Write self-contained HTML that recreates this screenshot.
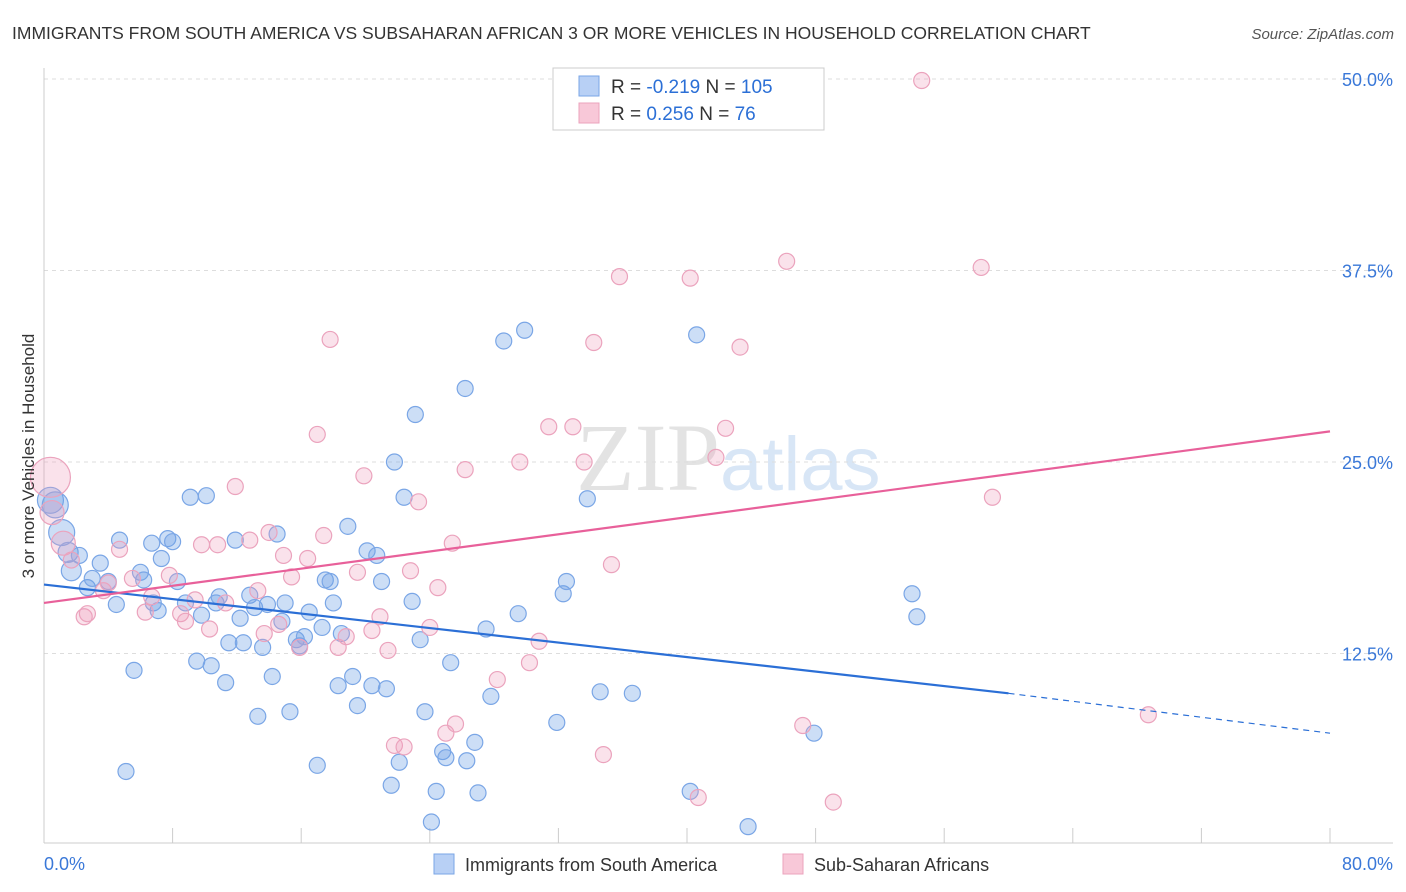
<!DOCTYPE html>
<html><head><meta charset="utf-8"><style>
body{margin:0;background:#fff;font-family:"Liberation Sans",sans-serif;}
svg{display:block}
</style></head><body>
<svg width="1406" height="892" id="chart" xmlns="http://www.w3.org/2000/svg">
<text x="12" y="39" font-size="17.5" fill="#333">IMMIGRANTS FROM SOUTH AMERICA VS SUBSAHARAN AFRICAN 3 OR MORE VEHICLES IN HOUSEHOLD CORRELATION CHART</text>
<text x="1394" y="39" font-size="15" fill="#555" text-anchor="end" font-style="italic">Source: ZipAtlas.com</text>
<text x="720" y="490" font-size="96" fill="#ddd" text-anchor="end" font-family="Liberation Serif" opacity="0.8">ZIP</text>
<text x="720" y="490" font-size="76" fill="#cfe0f5" opacity="0.8">atlas</text>
<g id="grid"></g>
<g id="axes"></g>
<g id="pts"></g>
<g id="lines"></g>
<text transform="translate(34,456) rotate(-90)" font-size="17" fill="#333" text-anchor="middle">3 or more Vehicles in Household</text>
<g>
<rect x="553" y="68" width="271" height="62" fill="#fff" stroke="#ccc"/>
<rect x="579" y="76" width="20" height="20" fill="#b8d0f5" stroke="#7aa6e6"/>
<rect x="579" y="103" width="20" height="20" fill="#f8c8d8" stroke="#eba3bd"/>
<text x="611" y="93" font-size="19" fill="#333">R = <tspan fill="#2b6fd6">-0.219</tspan>   N = <tspan fill="#2b6fd6">105</tspan></text>
<text x="611" y="120" font-size="19" fill="#333">R =  <tspan fill="#2b6fd6">0.256</tspan>   N =   <tspan fill="#2b6fd6">76</tspan></text>
</g>
<g>
<rect x="434" y="854" width="20" height="20" fill="#b8d0f5" stroke="#7aa6e6"/>
<text x="465" y="871" font-size="18" fill="#333">Immigrants from South America</text>
<rect x="783" y="854" width="20" height="20" fill="#f8c8d8" stroke="#eba3bd"/>
<text x="814" y="871" font-size="18" fill="#333">Sub-Saharan Africans</text>
</g>
</svg>
<script>
const yTicks=[12.5,25,37.5,50];
const yTickLabels=["12.5%","25.0%","37.5%","50.0%"];
const xTickVals=[0,8,16,24,32,40,48,56,64,72,80];
const blueX=[0.4,0.7,1.1,1.5,1.7,2.2,2.7,3.0,3.5,4.0,4.5,4.7,5.1,5.6,6.0,6.2,6.7,6.8,7.1,7.3,7.7,8.0,8.3,8.8,9.1,9.5,9.8,10.1,10.4,10.7,10.9,11.3,11.5,11.9,12.2,12.4,12.8,13.1,13.3,13.6,13.9,14.2,14.5,14.8,15.0,15.3,15.7,15.9,16.2,16.5,17.0,17.3,17.5,17.8,18.0,18.3,18.5,18.9,19.2,19.5,20.1,20.4,20.7,21.0,21.3,21.6,21.8,22.1,22.4,22.9,23.1,23.4,23.7,24.1,24.4,24.8,25.0,25.3,26.2,26.3,26.8,27.0,27.5,27.8,28.6,29.5,29.9,31.9,32.3,32.5,33.8,34.6,36.6,40.2,40.6,43.8,47.9,54.0,54.3];
const blueY=[22.5,22.2,20.4,19.1,17.9,18.9,16.8,17.4,18.4,17.2,15.7,19.9,4.8,11.4,17.8,17.3,19.7,15.8,15.3,18.7,20.0,19.8,17.2,15.8,22.7,12.0,15.0,22.8,11.7,15.8,16.2,10.6,13.2,19.9,14.8,13.2,16.3,15.5,8.4,12.9,15.7,11.0,20.3,14.6,15.8,8.7,13.4,13.0,13.6,15.2,5.2,14.2,17.3,17.2,15.8,10.4,13.8,20.8,11.0,9.1,19.2,10.4,18.9,17.2,10.2,3.9,25.0,5.4,22.7,15.9,28.1,13.4,8.7,1.5,3.5,6.1,5.7,11.9,29.8,5.5,6.7,3.4,14.1,9.7,32.9,15.1,33.6,8.0,16.4,17.2,22.6,10.0,9.9,3.5,33.3,1.2,7.3,16.4,14.9];
const pinkX=[0.4,0.5,1.2,1.7,2.5,2.7,3.7,4.0,4.7,5.5,6.3,6.7,7.8,8.5,8.8,9.4,9.8,10.3,10.8,11.3,11.9,12.8,13.3,13.7,14.0,14.6,14.9,15.4,15.9,16.4,17.0,17.4,17.8,18.3,18.8,19.5,19.9,20.4,20.9,21.4,21.8,22.4,22.8,23.3,24.0,24.5,25.0,25.4,25.6,26.2,28.2,29.6,30.2,30.8,31.4,32.9,33.6,34.2,34.8,35.3,35.8,40.2,40.7,41.8,42.4,43.3,46.2,47.2,49.1,54.6,58.3,59.0,68.7];
const pinkY=[24.0,21.7,19.7,18.6,14.9,15.1,16.6,17.1,19.3,17.4,15.2,16.2,17.6,15.1,14.6,16.0,19.6,14.1,19.6,15.8,23.4,19.9,16.6,13.8,20.4,14.4,18.9,17.5,12.9,18.7,26.8,20.2,33.0,12.9,13.6,17.8,24.1,14.0,14.9,12.7,6.5,6.4,17.9,22.4,14.2,16.8,7.3,19.7,7.9,24.5,10.8,25.0,11.9,13.3,27.3,27.3,25.0,32.8,5.9,18.3,37.1,37.0,3.1,25.3,27.2,32.5,38.1,7.8,2.8,49.9,37.7,22.7,8.5];
const blueLine=[[0,17.0],[60,9.9],[80,7.3]];
const pinkLine=[[0,15.8],[80,27.0]];
const NS="http://www.w3.org/2000/svg";
const X0=44,X1=1330,Y0=845,PXPER=191.5/12.5;
const sx=v=>X0+v/80*(X1-X0), sy=v=>Y0-v*PXPER;
function mk(tag,attrs,parent){const e=document.createElementNS(NS,tag);for(const k in attrs)e.setAttribute(k,attrs[k]);document.getElementById(parent).appendChild(e);return e;}
yTicks.forEach((t,i)=>{
 const l=mk('line',{x1:44,x2:1393,y1:sy(t),y2:sy(t),stroke:'#ddd','stroke-dasharray':'4,4'},'grid');
 
 
 const tx=mk('text',{x:1393,y:sy(t)+7,'font-size':18,fill:'#3a78d8','text-anchor':'end'},'grid');
 tx.textContent=yTickLabels[i];
 
 
});
let a=mk('line',{x1:44,x2:44,y1:68,y2:843,stroke:'#ccc'},'axes');


a=mk('line',{x1:44,x2:1393,y1:843,y2:843,stroke:'#ccc'},'axes');


xTickVals.forEach(v=>{const t=mk('line',{x1:sx(v),x2:sx(v),y1:828,y2:843,stroke:'#ccc'},'axes');
 
 });
let t=mk('text',{x:44,y:870,'font-size':18,fill:'#3a78d8'},'axes');t.textContent='0.0%';


t=mk('text',{x:1393,y:870,'font-size':18,fill:'#3a78d8','text-anchor':'end'},'axes');t.textContent='80.0%';


blueX.forEach((x,i)=>{const r=x<1.2?13:(x<2?10:8);
 const c=mk('circle',{cx:sx(x),cy:sy(blueY[i]),r:r,fill:'rgba(110,160,230,0.35)',stroke:'#7aa6e6','stroke-width':1.2},'pts');
 
 });
pinkX.forEach((x,i)=>{const r=x<0.45?20:(x<1.3?12:8);
 const c=mk('circle',{cx:sx(x),cy:sy(pinkY[i]),r:r,fill:'rgba(240,160,190,0.3)',stroke:'#eba3bd','stroke-width':1.2},'pts');
 
 });
let l=mk('line',{x1:sx(blueLine[0][0]),y1:sy(blueLine[0][1]),x2:sx(blueLine[1][0]),y2:sy(blueLine[1][1]),stroke:'#2b6fd6','stroke-width':2.2},'lines');


l=mk('line',{x1:sx(blueLine[1][0]),y1:sy(blueLine[1][1]),x2:sx(blueLine[2][0]),y2:sy(blueLine[2][1]),stroke:'#2b6fd6','stroke-width':1.2,'stroke-dasharray':'6,5'},'lines');


l=mk('line',{x1:sx(pinkLine[0][0]),y1:sy(pinkLine[0][1]),x2:sx(pinkLine[1][0]),y2:sy(pinkLine[1][1]),stroke:'#e8609a','stroke-width':2.2},'lines');


</script>
</body></html>
